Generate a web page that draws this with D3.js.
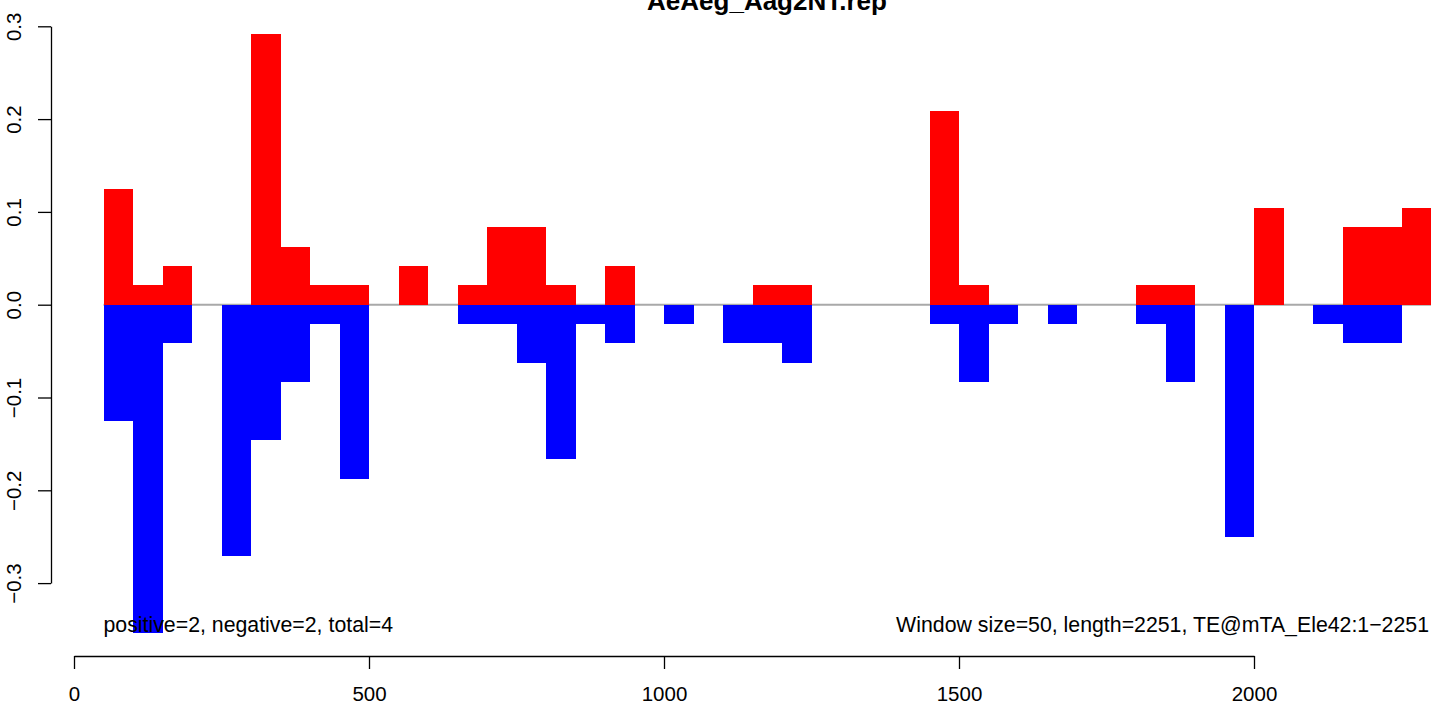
<!DOCTYPE html>
<html>
<head>
<meta charset="utf-8">
<script src="https://cdn.jsdelivr.net/npm/d3@7"></script>
<style>
  html, body { margin: 0; padding: 0; background: #fff; }
  svg { display: block; font-family: "Liberation Sans", Arial, Helvetica, sans-serif; }
</style>
</head>
<body>
<svg id="chart" width="1441" height="702"></svg>
<script>
// ---- data ----
const title = "AeAeg_Aag2NT.rep";
const windowSize = 50;
const windowStarts = [50,100,150,200,250,300,350,400,450,500,550,600,650,700,750,800,850,900,950,1000,
  1050,1100,1150,1200,1250,1300,1350,1400,1450,1500,1550,1600,1650,1700,1750,1800,1850,1900,1950,2000,
  2050,2100,2150,2200,2250];
const positiveValues = [0.125,0.0208,0.0417,0,0,0.2917,0.0625,0.0208,0.0208,0,0.0417,0,0.0208,0.0833,0.0833,0.0208,0,0.0417,0,0,
  0,0,0.0208,0.0208,0,0,0,0,0.2083,0.0208,0,0,0,0,0,0.0208,0.0208,0,0,0.1042,
  0,0,0.0833,0.0833,0.1042];
const negativeValues = [0.125,0.3542,0.0417,0,0.2708,0.1458,0.0833,0.0208,0.1875,0,0,0,0.0208,0.0208,0.0625,0.1667,0.0208,0.0417,0,0.0208,
  0,0.0417,0.0417,0.0625,0,0,0,0,0.0208,0.0833,0.0208,0,0.0208,0,0,0.0208,0.0833,0,0.25,0,
  0,0.0208,0.0417,0.0417,0];
const xTicks = [0, 500, 1000, 1500, 2000];
const yTicks = [-0.3, -0.2, -0.1, 0.0, 0.1, 0.2, 0.3];
const leftNote = "positive=2, negative=2, total=4";
const rightNote = "Window size=50, length=2251, TE@mTA_Ele42:1\u22122251";

// ---- scales ----
const svg = d3.select("#chart");
const x = d3.scaleLinear().domain([0, 2000]).range([74, 1254]);
const y = d3.scaleLinear().domain([-0.3, 0.3]).range([583.1, 26.3]);
const fmtY = v => (v < 0 ? "\u2212" : "") + Math.abs(v).toFixed(1);

// zero reference line
svg.append("line")
  .attr("x1", x(windowStarts[0])).attr("x2", x(windowStarts[windowStarts.length - 1] + windowSize))
  .attr("y1", y(0)).attr("y2", y(0))
  .attr("stroke", "#a9a9a9").attr("stroke-width", 2);

const bars = svg.append("g").attr("shape-rendering", "crispEdges");
bars.selectAll("rect.pos").data(windowStarts.map((s, i) => ({s, v: positiveValues[i]})).filter(d => d.v > 0))
  .join("rect").attr("class", "pos")
  .attr("x", d => x(d.s)).attr("width", d => x(d.s + windowSize) - x(d.s))
  .attr("y", d => y(d.v)).attr("height", d => y(0) - y(d.v))
  .attr("fill", "#ff0000");
bars.selectAll("rect.neg").data(windowStarts.map((s, i) => ({s, v: negativeValues[i]})).filter(d => d.v > 0))
  .join("rect").attr("class", "neg")
  .attr("x", d => x(d.s)).attr("width", d => x(d.s + windowSize) - x(d.s))
  .attr("y", y(0)).attr("height", d => y(-d.v) - y(0))
  .attr("fill", "#0000ff");

// y axis
const yAxis = svg.append("g").attr("transform", "translate(51,0)")
  .call(d3.axisLeft(y).tickValues(yTicks).tickSize(13).tickSizeOuter(0).tickFormat(fmtY));
yAxis.select(".domain").attr("stroke", "#000").attr("stroke-width", 1.3);
yAxis.selectAll(".tick line").attr("stroke", "#000").attr("stroke-width", 1.3);
yAxis.selectAll(".tick text").remove();
yAxis.selectAll(".tick").append("text")
  .attr("transform", "translate(-30,0) rotate(-90)")
  .attr("text-anchor", "middle")
  .attr("fill", "#000")
  .attr("font-size", 20.5)
  .attr("font-family", "Liberation Sans, Arial, sans-serif")
  .text(d => fmtY(d));

// x axis
const xAxis = svg.append("g").attr("transform", "translate(0,656)")
  .call(d3.axisBottom(x).tickValues(xTicks).tickSize(13).tickSizeOuter(0).tickFormat(d3.format("d")));
xAxis.select(".domain").attr("stroke", "#000").attr("stroke-width", 1.3);
xAxis.selectAll(".tick line").attr("stroke", "#000").attr("stroke-width", 1.3);
xAxis.selectAll(".tick text").attr("y", 45).attr("dy", 0)
  .attr("font-size", 20.5).attr("fill", "#000")
  .attr("font-family", "Liberation Sans, Arial, sans-serif");

// title
svg.append("text").attr("x", 767).attr("y", 10).attr("text-anchor", "middle")
  .attr("font-size", 26).attr("font-weight", "bold").attr("fill", "#000").text(title);

// notes
svg.append("text").attr("x", x(windowStarts[0])).attr("y", 632)
  .attr("font-size", 21.3).attr("fill", "#000").text(leftNote);
svg.append("text").attr("x", x(windowStarts[windowStarts.length - 1] + windowSize) - 2).attr("y", 632)
  .attr("text-anchor", "end").attr("font-size", 21.3).attr("fill", "#000").text(rightNote);
</script>
</body>
</html>
